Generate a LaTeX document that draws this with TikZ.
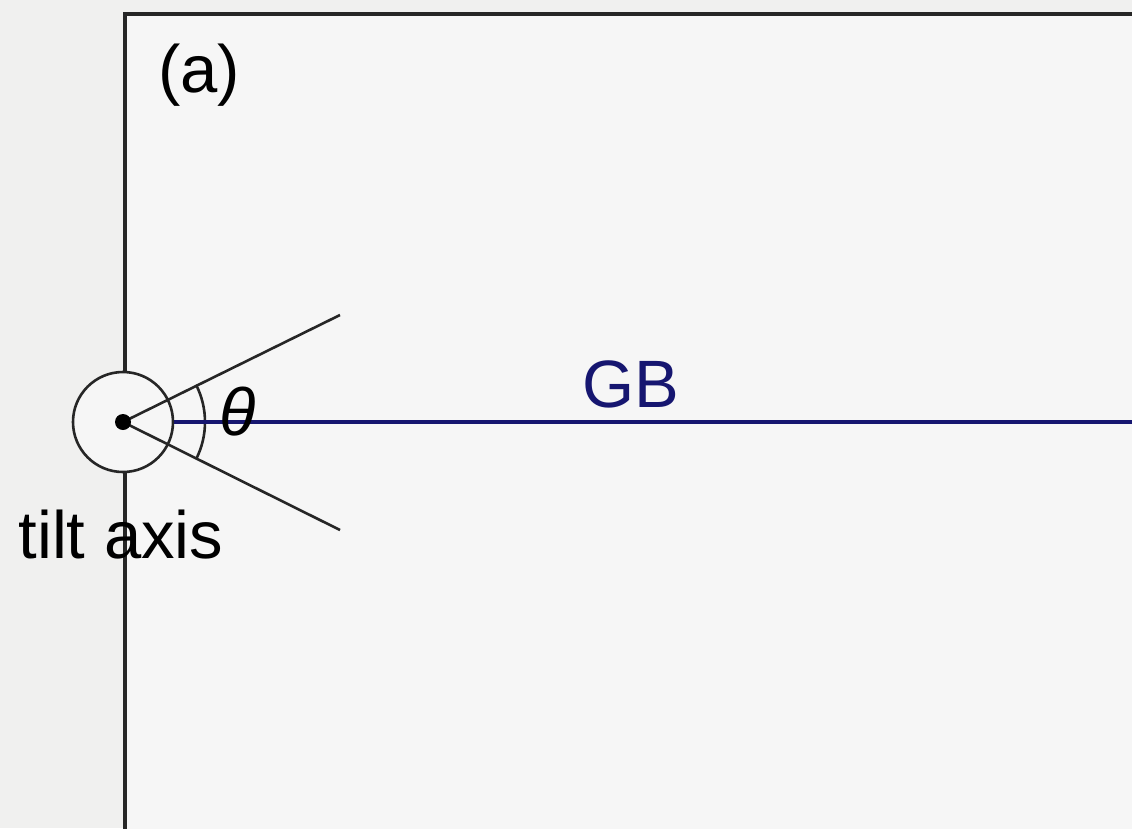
\documentclass[tikz,border=0pt]{standalone}
\usepackage{fontspec}
\setmainfont{Liberation Sans}
\usepackage{tikz}
\definecolor{cOut}{RGB}{240,240,239}
\definecolor{cIn}{RGB}{246,246,246}
\definecolor{cGB}{RGB}{22,22,112}

\begin{document}
\begin{tikzpicture}[x=1pt,y=-1pt,font=\fontsize{67}{72}\selectfont]
\useasboundingbox (0,0) rectangle (1132,828);
\clip (0,0) rectangle (1132,828);
\fill[cOut] (0,0) rectangle (1132,828);
\filldraw[fill=cIn,draw=black!85,line width=3.2pt] (125,14) rectangle (1160,860);
\node (lbl) at (199,75) {(a)};
% tilt axis and the two tilted planes
\coordinate (ax) at (123,422);
\coordinate (up) at (340,315);
\coordinate (dn) at (340,530);
\node[circle,minimum size=100pt,inner sep=0pt,fill=cIn,draw=black!85,line width=2.6pt] (axis) at (ax) {};
\draw[black!85,line width=2.6pt] (ax) -- (up);
\draw[black!85,line width=2.6pt] (ax) -- (dn);
\fill[black] (ax) circle (8pt);
\draw[black!85,line width=2.6pt] (ax) ++(-27:82) arc (-27:27:82);
% grain boundary
\coordinate (gbend) at (1132,422);
\draw[cGB,line width=3.6pt] (axis.east) -- (gbend);
\node (th) at (238,412) {\itshape θ};
\node[text=cGB] (gb) at (631,384) {GB};
\node (tilt) at (121,535) {tilt axis};
\end{tikzpicture}
\end{document}
